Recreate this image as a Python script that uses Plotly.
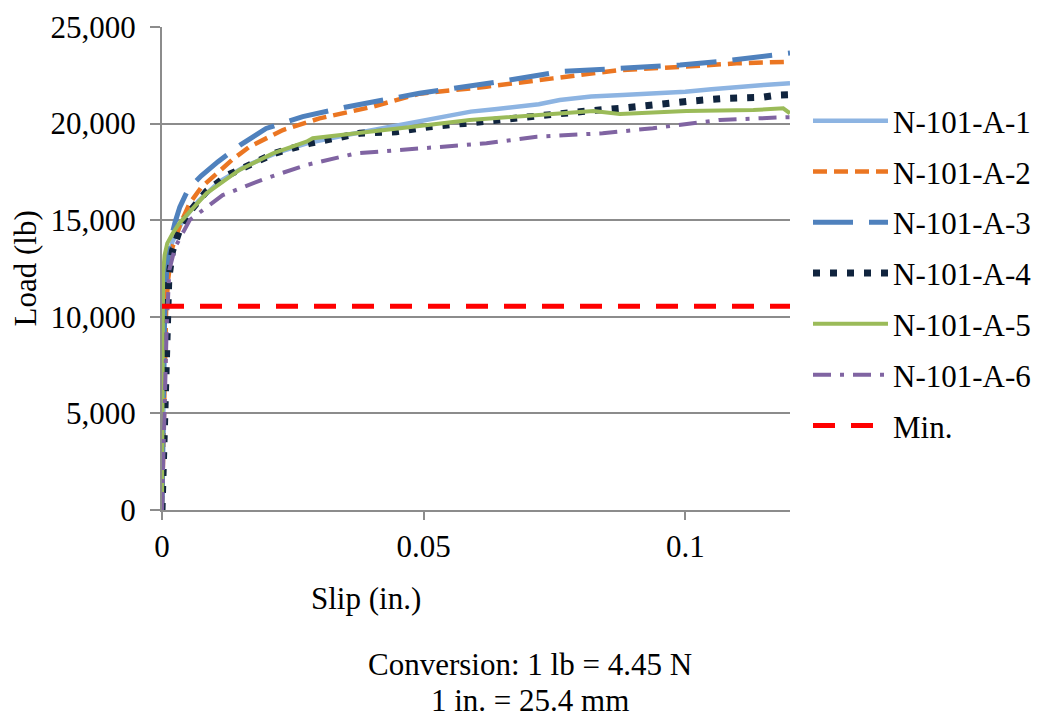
import plotly.graph_objects as go

# Load-slip test data (slip in inches, load in lb)
slip_a1 = [0, 0.0002, 0.0004, 0.0006, 0.001, 0.002, 0.004, 0.007, 0.011, 0.016, 0.022, 0.028,
           0.035, 0.042, 0.049, 0.054, 0.059, 0.064, 0.068, 0.072, 0.076, 0.082, 0.088, 0.094,
           0.100, 0.105, 0.110, 0.115, 0.120]
load_a1 = [0, 4500, 9000, 11500, 12800, 13900, 15000, 16000, 17000, 17800, 18500, 19000,
           19400, 19750, 20100, 20400, 20620, 20750, 20880, 21000, 21220, 21400, 21480, 21550,
           21650, 21780, 21910, 22000, 22090]

slip_a2 = [0, 0.0002, 0.0005, 0.0008, 0.0012, 0.002, 0.0035, 0.0053, 0.0075, 0.0104, 0.0135,
           0.0167, 0.0231, 0.0301, 0.0403, 0.0492, 0.0531, 0.062, 0.0747, 0.0875, 0.1002,
           0.1098, 0.12]
load_a2 = [0, 3500, 8000, 10500, 12000, 13600, 14800, 15880, 16700, 17430, 18150,
           18800, 19670, 20270, 20880, 21550, 21650, 21910, 22340, 22770, 22950,
           23120, 23200]

slip_a3 = [0, 0.0002, 0.0005, 0.0009, 0.0015, 0.0025, 0.0034, 0.005, 0.0075, 0.0107, 0.015,
           0.0199, 0.0269, 0.035, 0.0492, 0.0645, 0.076, 0.0875, 0.099, 0.106, 0.1104,
           0.1174, 0.12]
load_a3 = [0, 5000, 10000, 12500, 13800, 14900, 15680, 16600, 17300, 18030, 18900,
           19750, 20360, 20850, 21570, 22170, 22690, 22860, 23030, 23200, 23330,
           23580, 23650]

slip_a4 = [0, 0.0003, 0.0006, 0.0009, 0.0013, 0.002, 0.0035, 0.0053, 0.0085, 0.0126, 0.0215,
           0.0282, 0.0378, 0.0448, 0.0511, 0.0578, 0.0645, 0.0712, 0.0811, 0.0875, 0.0945,
           0.1012, 0.1079, 0.1146, 0.1178, 0.12]
load_a4 = [0, 3000, 7000, 10000, 12000, 13400, 14600, 15440, 16500, 17340, 18460,
           18980, 19500, 19580, 19840, 20010, 20220, 20390, 20650, 20790, 21000,
           21170, 21310, 21360, 21480, 21500]

slip_a5 = [0, 0.0001, 0.0002, 0.0005, 0.001, 0.002, 0.0033, 0.0085, 0.0148, 0.0212, 0.0276,
           0.0288, 0.0403, 0.0492, 0.0588, 0.0683, 0.0824, 0.0875, 0.1002, 0.113, 0.1187, 0.12]
load_a5 = [0, 6000, 12250, 13200, 13800, 14300, 14840, 16390, 17600, 18460, 19060,
           19240, 19580, 19880, 20190, 20390, 20650, 20500, 20650, 20700, 20790, 20530]

slip_a6 = [0, 0.0002, 0.0005, 0.0009, 0.0014, 0.0025, 0.0053, 0.0116, 0.0199, 0.0276, 0.0371,
           0.0492, 0.062, 0.0716, 0.0842, 0.0938, 0.1066, 0.1193, 0.12]
load_a6 = [0, 2500, 6000, 9500, 12420, 13600, 15010, 16300, 17170, 17860, 18460,
           18720, 18980, 19320, 19500, 19760, 20190, 20330, 20330]

slip_min = [0, 0.12]
load_min = [10540, 10540]

series_names = ["N-101-A-1", "N-101-A-2", "N-101-A-3", "N-101-A-4", "N-101-A-5", "N-101-A-6", "Min."]
x_ticks = [0, 0.05, 0.1]
x_tick_text = ["0", "0.05", "0.1"]
y_ticks = [0, 5000, 10000, 15000, 20000, 25000]

FONT = "Liberation Serif, Times New Roman, serif"
GRID = "#8c8c8c"

styles = [
    dict(color="#8db4e2", width=4.5, dash="solid"),
    dict(color="#eb7622", width=4.5, dash="14px,7px"),
    dict(color="#4f81bd", width=5, dash="40px,16px"),
    dict(color="#10243e", width=7, dash="7px,10px"),
    dict(color="#9bbb59", width=4, dash="solid"),
    dict(color="#8064a2", width=4, dash="18px,9px,4px,9px"),
    dict(color="#ff0000", width=5, dash="22px,16px"),
]

data = [
    (slip_a1, load_a1), (slip_a2, load_a2), (slip_a3, load_a3), (slip_a4, load_a4),
    (slip_a5, load_a5), (slip_a6, load_a6), (slip_min, load_min),
]

fig = go.Figure()
for i, ((xs, ys), name, st) in enumerate(zip(data, series_names, styles)):
    fig.add_trace(go.Scatter(
        x=xs, y=ys, mode="lines", name=name, line=st,
        legendgroup=f"g{i}",
    ))

PLOT_L, PLOT_R, PLOT_T, PLOT_B = 162, 790, 27, 510
PW, PH = PLOT_R - PLOT_L, PLOT_B - PLOT_T


def px_x(px):
    return (px - PLOT_L) / PW


def px_y(py):
    return (PLOT_B - py) / PH


fig.update_layout(
    width=1037, height=719,
    margin=dict(l=PLOT_L, r=1037 - PLOT_R, t=PLOT_T, b=719 - PLOT_B, autoexpand=False),
    paper_bgcolor="white", plot_bgcolor="white",
    font=dict(family=FONT, size=31, color="black"),
    showlegend=True,
    legend=dict(
        x=px_x(808), xanchor="left", y=px_y(94), yanchor="top",
        font=dict(family=FONT, size=31, color="black"),
        tracegroupgap=7.5, itemwidth=75,
        bgcolor="rgba(0,0,0,0)",
    ),
    xaxis=dict(
        range=[0, 0.12], tickvals=x_ticks, ticktext=x_tick_text,
        showgrid=False, zeroline=False, showline=True, linecolor=GRID, linewidth=2,
        ticks="outside", ticklen=8, tickwidth=2, tickcolor=GRID,
        tickfont=dict(family=FONT, size=31),
    ),
    yaxis=dict(
        range=[0, 25000], tickvals=y_ticks, tickformat=",",
        showgrid=True, gridcolor=GRID, gridwidth=2,
        zeroline=False, showline=True, linecolor=GRID, linewidth=2,
        ticks="outside", ticklen=10, tickwidth=2, tickcolor=GRID,
        ticklabelstandoff=8,
        tickfont=dict(family=FONT, size=31),
    ),
    annotations=[
        dict(text="Load (lb)", xref="paper", yref="paper", x=px_x(25), y=0.5,
             textangle=-90, showarrow=False, xanchor="center", yanchor="middle",
             font=dict(family=FONT, size=31)),
        dict(text="Slip (in.)", xref="paper", yref="paper", x=px_x(366), y=px_y(598),
             showarrow=False, xanchor="center", yanchor="middle",
             font=dict(family=FONT, size=31)),
        dict(text="Conversion: 1 lb = 4.45 N", xref="paper", yref="paper",
             x=px_x(530), y=px_y(664),
             showarrow=False, xanchor="center", yanchor="middle",
             font=dict(family=FONT, size=31)),
        dict(text="1 in. = 25.4 mm", xref="paper", yref="paper",
             x=px_x(530), y=px_y(700),
             showarrow=False, xanchor="center", yanchor="middle",
             font=dict(family=FONT, size=31)),
    ],
)

fig.write_html("out.html")
